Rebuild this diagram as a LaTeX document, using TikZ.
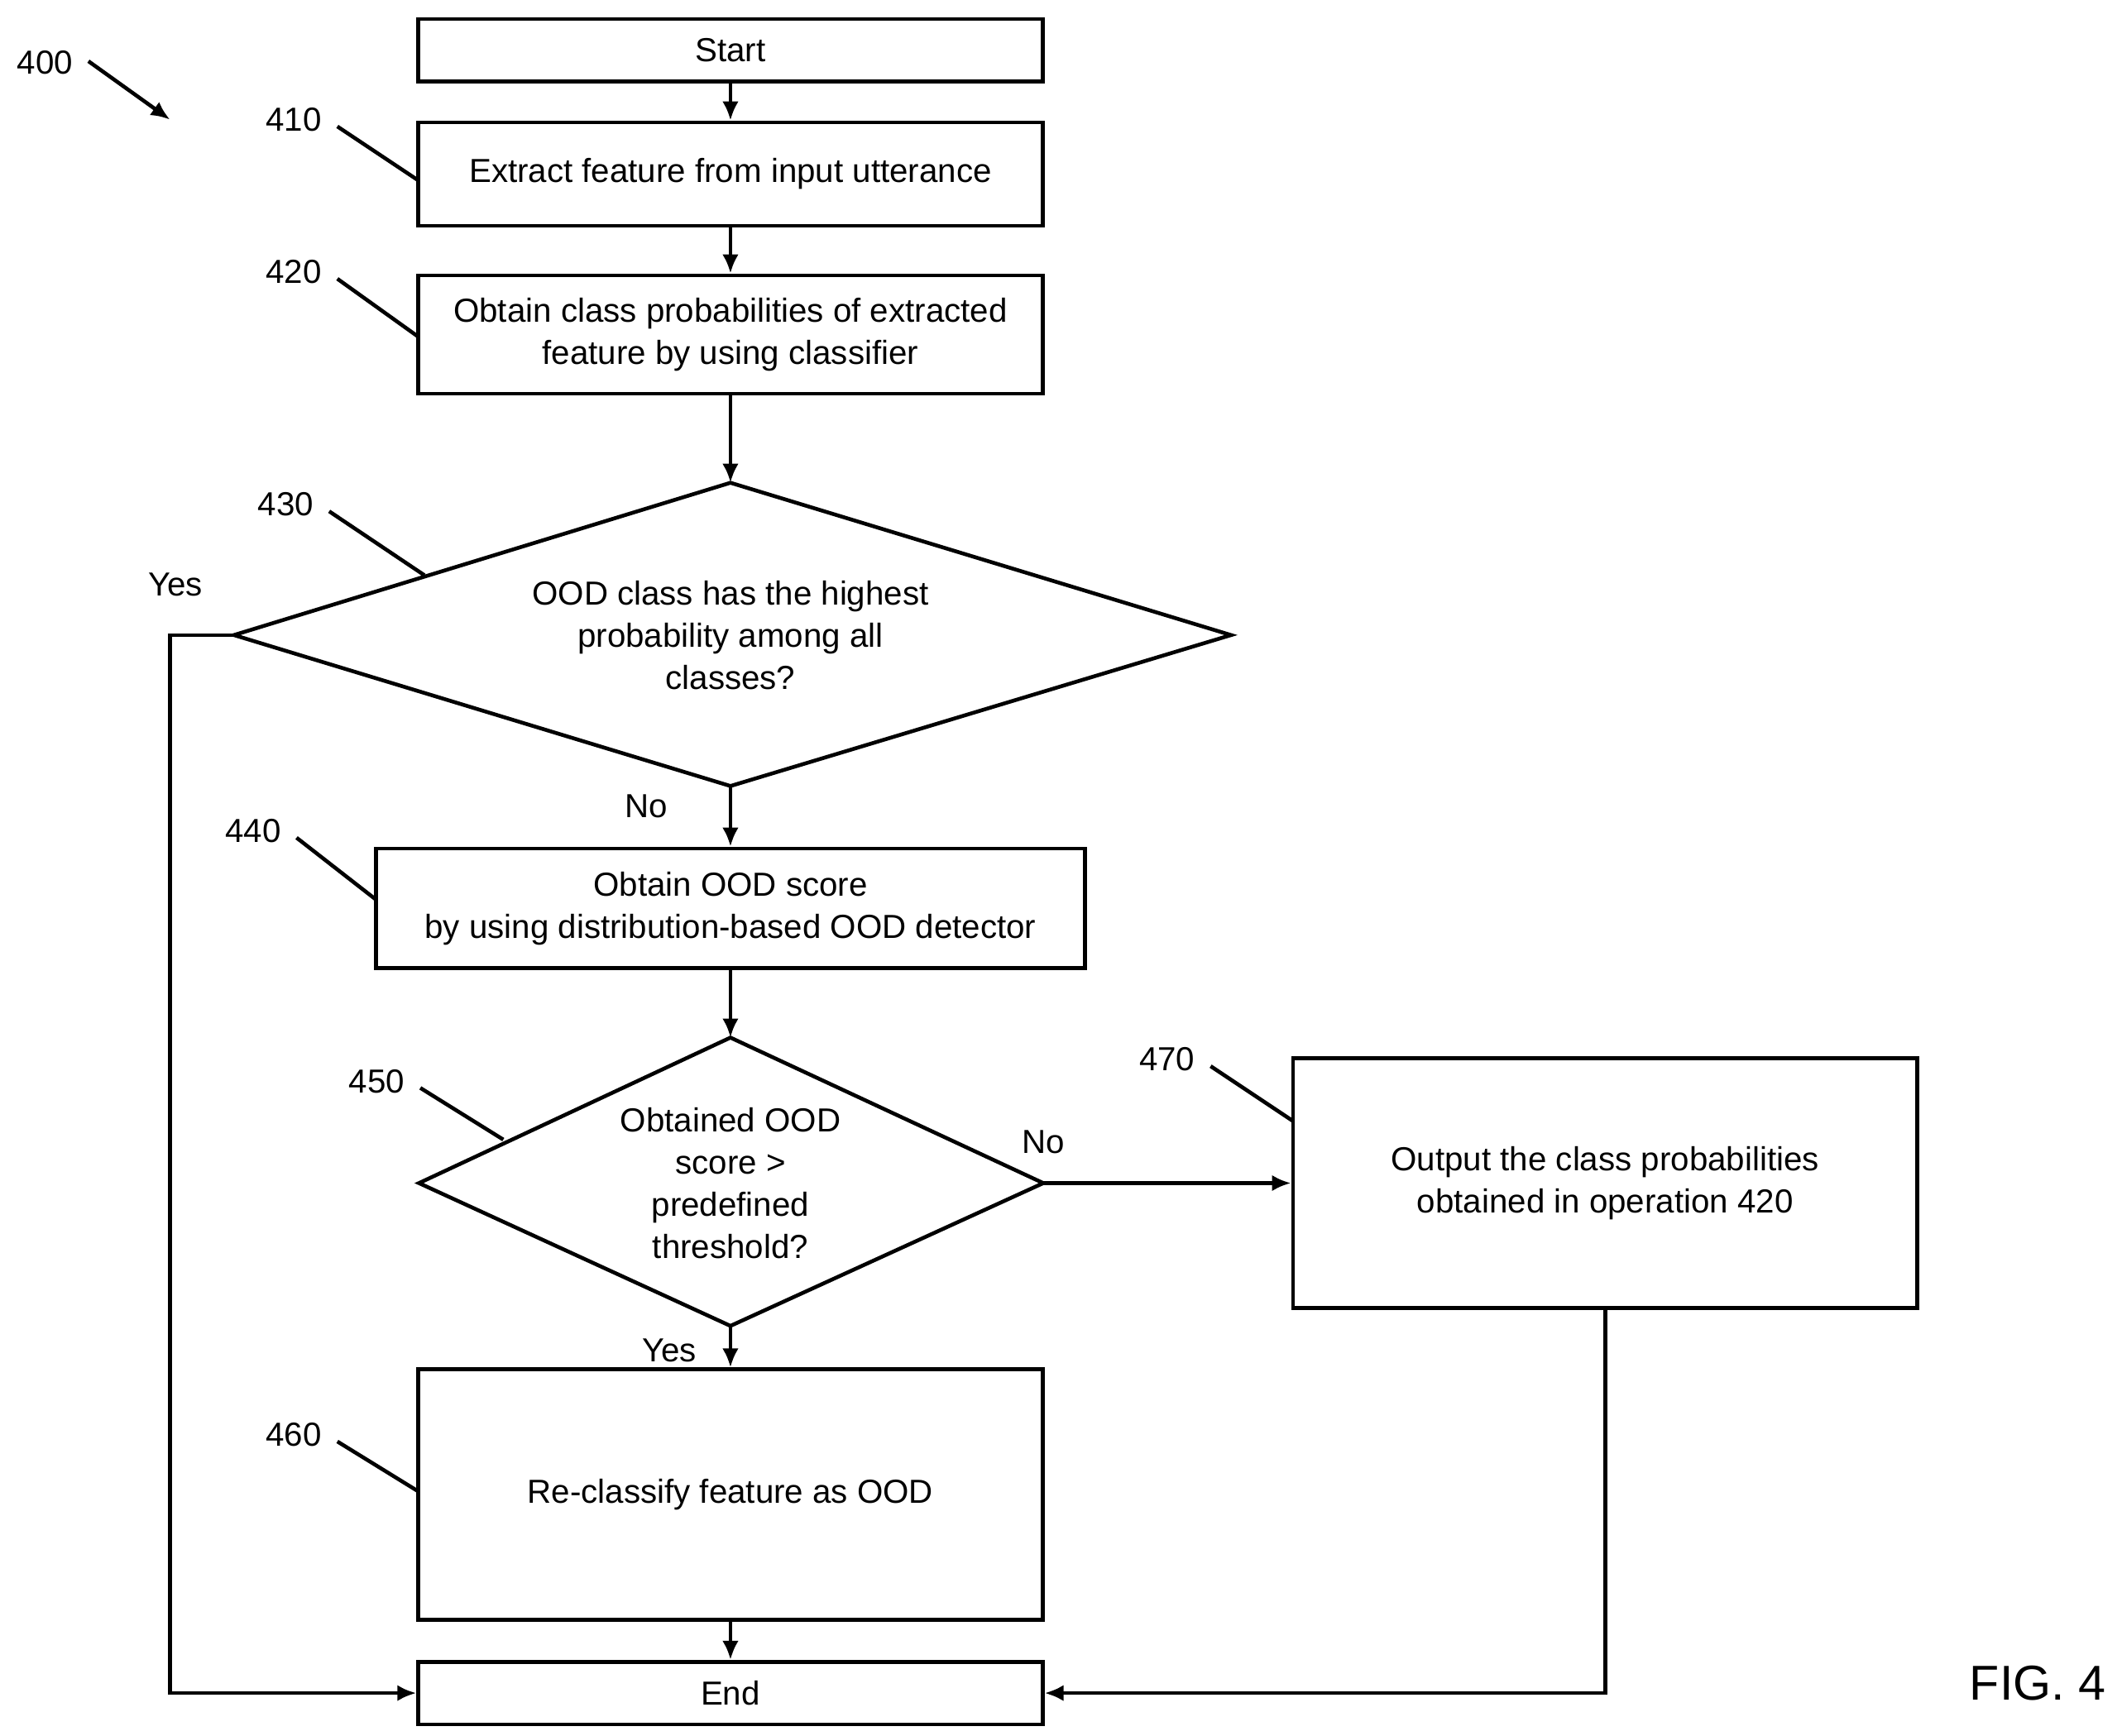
\documentclass[tikz,border=0pt]{standalone}
\usepackage{fontspec}
\setmainfont{Liberation Sans}
\usetikzlibrary{arrows.meta}

\tikzset{
    box/.style={draw, line width=2.8pt, align=center, inner sep=0pt},
    choice/.style={draw, line width=2.8pt},
    flow/.style={line width=2.8pt, -{Latex[length=14pt,width=12pt]}},
    tag/.style={line width=2.8pt},
}

\begin{document}
\begin{tikzpicture}[x=1pt,y=-1pt,font=\fontsize{24.5}{31}\selectfont]

\useasboundingbox (0,0) rectangle (1560,1276);

% Boxes
\node [box, minimum width=459, minimum height=46] (start) at (537,37) {Start};
\node [box, minimum width=459, minimum height=76] (extract) at (537,128) {Extract feature from input utterance};
\node [box, minimum width=459, minimum height=87] (probs) at (537,246) {Obtain class probabilities of extracted\\feature by using classifier};
\node [box, minimum width=521, minimum height=88] (score) at (537,668) {Obtain OOD score\\by using distribution-based OOD detector};
\node [box, minimum width=459, minimum height=184] (output) at (1180,870) {Output the class probabilities\\obtained in operation 420};
\node [box, minimum width=459, minimum height=184] (reclass) at (537,1099) {Re-classify feature as OOD};
\node [box, minimum width=459, minimum height=46] (finish) at (537,1245) {End};

% Decisions
\coordinate (oodtop) at (537,355);
\coordinate (oodleft) at (172,467);
\coordinate (oodright) at (905,467);
\coordinate (oodbot) at (537,578);
\draw [choice] (oodtop) -- (oodright) -- (oodbot) -- (oodleft) -- cycle;
\node [align=center] (oodmax) at (537,467) {OOD class has the highest\\probability among all\\classes?};
\coordinate (thrtop) at (537,763);
\coordinate (thrleft) at (308,870);
\coordinate (thrright) at (767,870);
\coordinate (thrbot) at (537,975);
\draw [choice] (thrtop) -- (thrright) -- (thrbot) -- (thrleft) -- cycle;
\node [align=center] (thresh) at (537,870) {Obtained OOD\\score >\\predefined\\threshold?};

% Connectors
\draw [flow] (start) -- (extract);
\draw [flow] (extract) -- (probs);
\draw [flow] (probs) -- (oodtop);
\draw [flow] (oodbot) -- (score);
\draw [flow] (score) -- (thrtop);
\draw [flow] (thrbot) -- (reclass);
\draw [flow] (reclass) -- (finish);
\draw [flow] (thrright) -- (output.west);
\draw [flow] (oodleft) -| (125,1245) -- (finish.west);
\draw [flow] (output.south) |- (finish.east);
\node at (129,430) {Yes};
\node at (475,593) {No};
\node at (767,840) {No};
\node at (492,993) {Yes};

% Reference numerals
\node at (33,46) {400};
\draw [tag, -{Latex[length=14pt,width=12pt]}] (65,45) -- (125,88);
\foreach \num/\x/\y/\ex/\ey in {410/216/88/308/133, 420/216/200/308/248, 430/210/371/312/423,
    440/186/611/277/662, 450/277/795/370/838, 470/858/779/950/824, 460/216/1055/308/1097} {
    \node (n\num) at (\x,\y) {\num};
    \draw [tag] (\x+32,\y+5) -- (\ex,\ey);
}

\node [font=\fontsize{36}{40}\selectfont] (fig) at (1498,1238) {FIG. 4};

\end{tikzpicture}
\end{document}
